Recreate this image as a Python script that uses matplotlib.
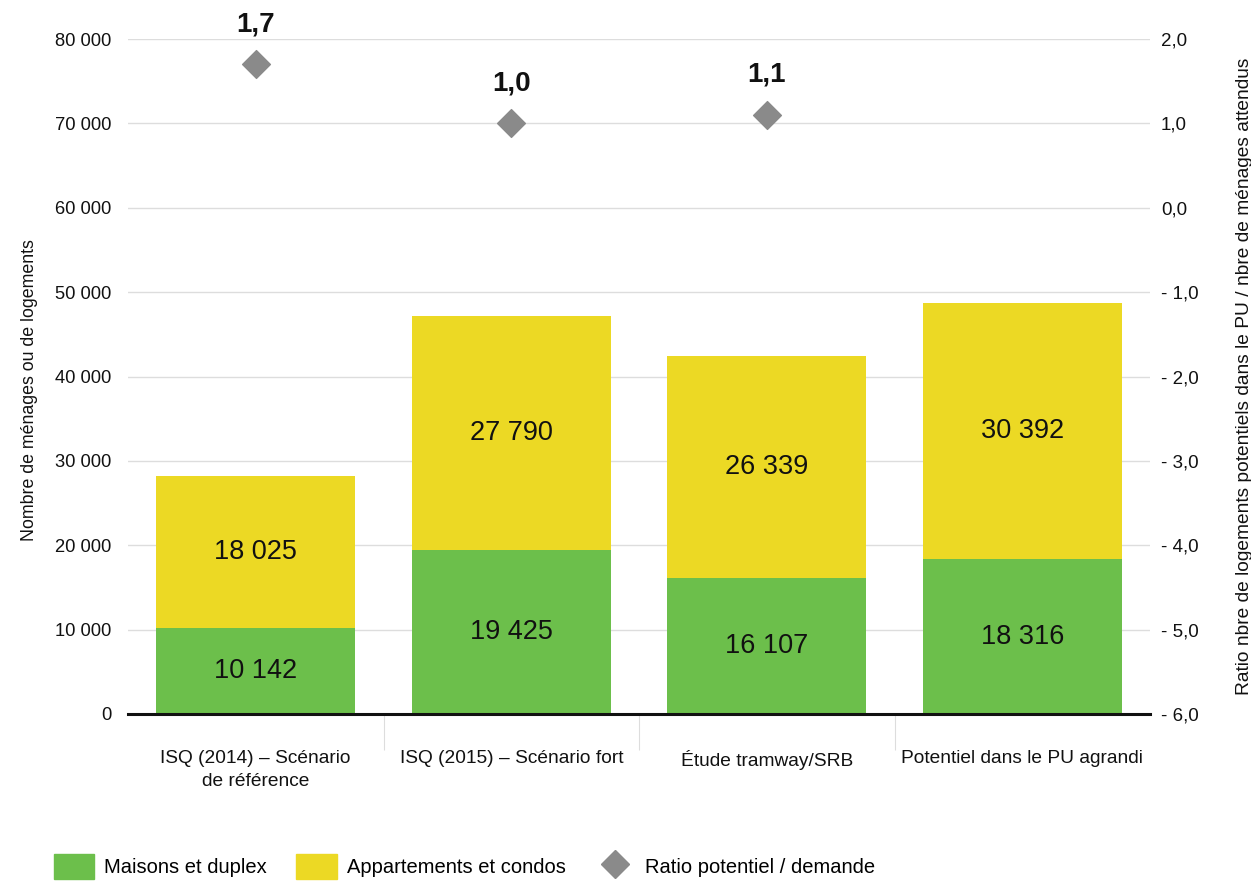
import matplotlib.pyplot as plt
from matplotlib.ticker import FuncFormatter, FixedLocator
from matplotlib.patches import Patch
from matplotlib.lines import Line2D

plt.rcParams['font.family'] = ['Liberation Sans', 'DejaVu Sans']

categories = ["ISQ (2014) – Scénario\nde référence", "ISQ (2015) – Scénario fort",
              "Étude tramway/SRB", "Potentiel dans le PU agrandi"]
maisons = [10142, 19425, 16107, 18316]
appartements = [18025, 27790, 26339, 30392]
ratio = [1.7, 1.0, 1.1, None]

green = "#6cbf4b"
yellow = "#ecd924"
grey = "#8a8a8a"
ink = "#111111"

fig = plt.figure(figsize=(12.51, 8.82), dpi=100)
ax = fig.add_axes([128 / 1251, 1 - 714 / 882, (1150 - 128) / 1251, (714 - 39) / 882])
ax2 = ax.twinx()

x = list(range(len(categories)))
width = 0.78
ax.bar(x, maisons, width, color=green, zorder=2)
ax.bar(x, appartements, width, bottom=maisons, color=yellow, zorder=2)

def fmt_thousands(v):
    return f"{int(round(v)):,}".replace(",", " ")

for xi, m, a in zip(x, maisons, appartements):
    ax.text(xi, m / 2, fmt_thousands(m), ha="center", va="center", fontsize=19.5, color=ink)
    ax.text(xi, m + a / 2, fmt_thousands(a), ha="center", va="center", fontsize=19.5, color=ink)

ax.set_xlim(-0.5, len(categories) - 0.5)
ax.set_ylim(0, 80000)
ax.yaxis.set_major_locator(FixedLocator(range(0, 80001, 10000)))
ax.yaxis.set_major_formatter(FuncFormatter(lambda v, p: fmt_thousands(v)))
ax.grid(axis="y", color="#dddddd", linewidth=1, zorder=0)
ax.set_axisbelow(True)

for side in ["top", "right", "left"]:
    ax.spines[side].set_visible(False)
    ax2.spines[side].set_visible(False)
ax2.spines["bottom"].set_visible(False)
ax.spines["bottom"].set_linewidth(2.2)
ax.spines["bottom"].set_color(ink)
ax.spines["bottom"].set_zorder(5)

ax.tick_params(axis="y", length=0, labelsize=13.2, pad=12, labelcolor=ink)
ax.set_xticks(x)
ax.set_xticklabels(categories, fontsize=13.8, linespacing=1.45, color=ink)
ax.tick_params(axis="x", length=0, pad=26)
# category separators below the baseline
ax.set_xticks([i + 0.5 for i in x[:-1]], minor=True)
ax.tick_params(axis="x", which="minor", length=26, width=0.8, color="#dddddd")

ax2.set_ylim(-6.0, 2.0)
ax2.yaxis.set_major_locator(FixedLocator([-6, -5, -4, -3, -2, -1, 0, 1, 2]))

def fmt_ratio(v, p):
    s = f"{abs(v):.1f}".replace(".", ",")
    return ("- " + s) if v < -1e-9 else s

ax2.yaxis.set_major_formatter(FuncFormatter(fmt_ratio))
ax2.tick_params(axis="y", length=0, labelsize=13.5, pad=8, labelcolor=ink)

rx = [xi for xi, r in zip(x, ratio) if r is not None]
ry = [r for r in ratio if r is not None]
ax2.scatter(rx, ry, marker="D", s=200, color=grey, zorder=4, clip_on=False)
for xi, r in zip(rx, ry):
    ax2.annotate(f"{r:.1f}".replace(".", ","), (xi, r), xytext=(0, 29), textcoords="offset points",
                 ha="center", va="center", fontsize=20, fontweight="bold", color=ink)

ax.set_ylabel("Nombre de ménages ou de logements", fontsize=12.8, labelpad=12, color=ink, y=0.48)
ax2.set_ylabel("Ratio nbre de logements potentiels dans le PU / nbre de ménages attendus",
               fontsize=13.8, labelpad=27, color=ink)

handles = [Patch(color=green, label="Maisons et duplex"),
           Patch(color=yellow, label="Appartements et condos"),
           Line2D([], [], marker="D", color=grey, linestyle="none", markersize=14,
                  label="Ratio potentiel / demande")]
fig.legend(handles=handles, loc="lower left", bbox_to_anchor=(44 / 1251, -0.008), ncol=3,
           frameon=False, fontsize=14.5, handlelength=2.0, handleheight=1.5,
           columnspacing=1.45, handletextpad=0.5, borderpad=0.0)

fig.savefig("out.png", dpi=100)
